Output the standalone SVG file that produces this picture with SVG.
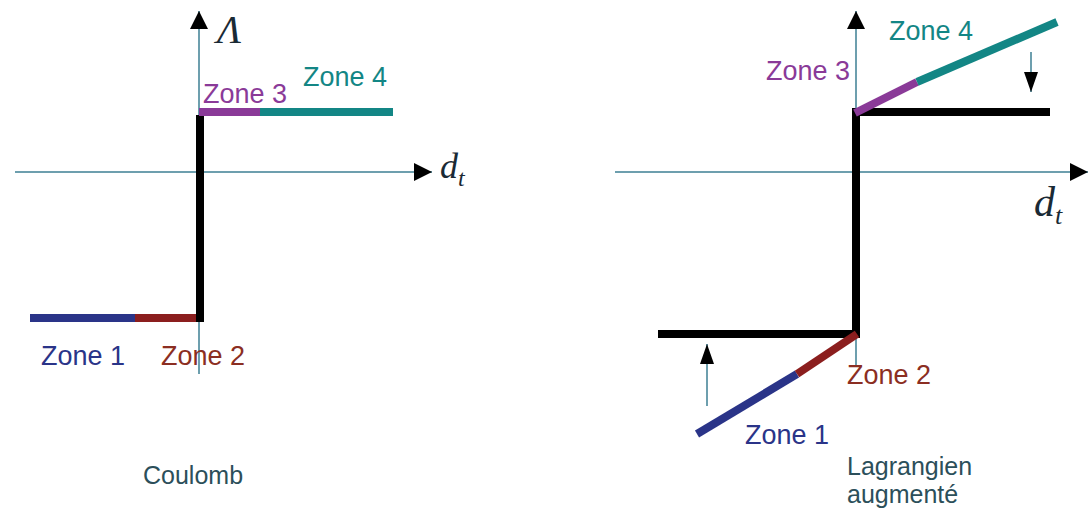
<svg xmlns="http://www.w3.org/2000/svg" width="1089" height="511" viewBox="0 0 1089 511">
<defs>
<marker id="ah" viewBox="0 0 10 10" refX="10" refY="5" markerWidth="18" markerHeight="18" markerUnits="userSpaceOnUse" orient="auto">
<path d="M0,0 L10,5 L0,10 Z" fill="#000"/>
</marker>
<marker id="ahs" viewBox="0 0 10 10" refX="10" refY="5" markerWidth="20" markerHeight="14" markerUnits="userSpaceOnUse" orient="auto" preserveAspectRatio="none">
<path d="M0,0 L10,5 L0,10 Z" fill="#000"/>
</marker>
</defs>
<style>
.axis{stroke:#3d7f93;stroke-width:1.5;fill:none}
.thick{stroke-width:8;fill:none;stroke-linecap:butt}
.blk{stroke:#000}
.blue{stroke:#2a3488}
.red{stroke:#8b1e1e}
.purple{stroke:#8a3a98}
.teal{stroke:#138685}
.lbl{font-family:"Liberation Sans",Arial,sans-serif;font-size:27px}
.cap{font-family:"Liberation Sans",Arial,sans-serif;font-size:25px;fill:#2c4f5a}
.math{font-family:"Liberation Serif","Times New Roman",serif;font-style:italic;fill:#1a2a35}
.arr{stroke:#3d7f93;stroke-width:1.5;fill:none}
</style>
<g id="connectors">
<line class="axis" x1="15" y1="172" x2="432" y2="172" marker-end="url(#ah)"/>
<line class="axis" x1="199" y1="374" x2="199" y2="11" marker-end="url(#ah)"/>
<line class="axis" x1="615" y1="172" x2="1088" y2="172" marker-end="url(#ah)"/>
<line class="axis" x1="856" y1="365" x2="856" y2="11" marker-end="url(#ah)"/>
<line class="arr" x1="1031" y1="52" x2="1031" y2="92" marker-end="url(#ahs)"/>
<line class="arr" x1="707" y1="406" x2="707" y2="344" marker-end="url(#ahs)"/>
</g>
<g id="coulomb-curve">
<line class="thick blue" x1="30" y1="318" x2="135" y2="318"/>
<line class="thick red" x1="135" y1="318" x2="203" y2="318"/>
<line class="thick blk" x1="200" y1="322" x2="200" y2="115"/>
<line class="thick purple" x1="199" y1="112" x2="260" y2="112"/>
<line class="thick teal" x1="260" y1="112" x2="393" y2="112"/>
</g>
<g id="lagrangien-curve">
<polyline class="thick blk" points="658,334 856,334 856,112 1050,112"/>
<line class="thick blue" x1="697" y1="434" x2="797" y2="374"/>
<line class="thick red" x1="797" y1="374" x2="857" y2="334"/>
<line class="thick purple" x1="855" y1="113" x2="917" y2="82"/>
<line class="thick teal" x1="917" y1="82" x2="1057" y2="22"/>
</g>
<g id="left-labels">
<text class="math" x="217" y="43" font-size="40">Λ</text>
<text class="math" x="440" y="178" font-size="36">d<tspan font-size="24" dy="8">t</tspan></text>
<text class="lbl" x="203" y="103" fill="#8a3a98">Zone 3</text>
<text class="lbl" x="303" y="86" fill="#138685">Zone 4</text>
<text class="lbl" x="41" y="365" fill="#2a3488">Zone 1</text>
<text class="lbl" x="161" y="365" fill="#8b2e22">Zone 2</text>
<text class="cap" x="143" y="484">Coulomb</text>
</g>
<g id="right-labels">
<text class="math" x="1034" y="216" font-size="42">d<tspan font-size="26" dy="8">t</tspan></text>
<text class="lbl" x="766" y="80" fill="#8a3a98">Zone 3</text>
<text class="lbl" x="889" y="40" fill="#138685">Zone 4</text>
<text class="lbl" x="847" y="384" fill="#8b2e22">Zone 2</text>
<text class="lbl" x="745" y="444" fill="#2a3488">Zone 1</text>
<text class="cap" x="847" y="475">Lagrangien</text>
<text class="cap" x="847" y="503">augmenté</text>
</g>
</svg>
